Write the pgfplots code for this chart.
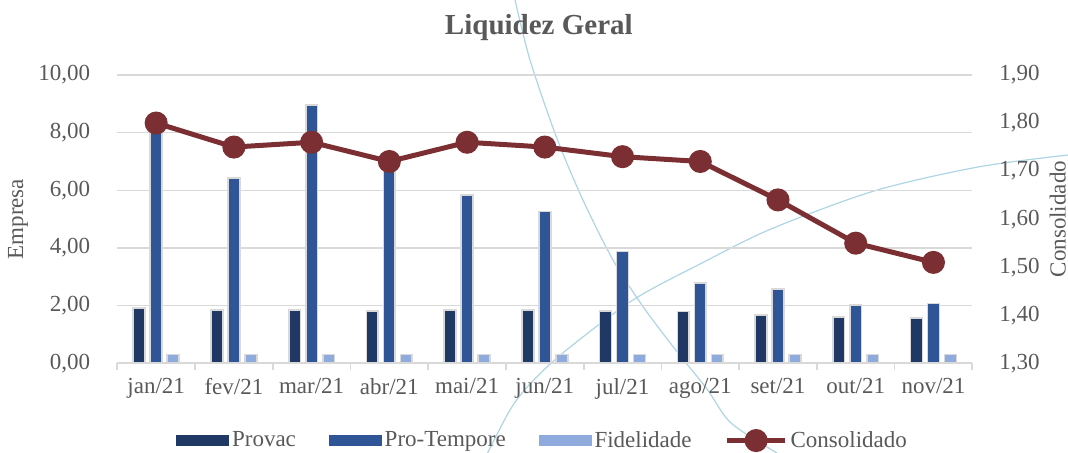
\documentclass[border=0pt]{standalone}
\usepackage{pgfplots}
\pgfplotsset{compat=1.18}
\usepackage{fontspec}
\setmainfont{Liberation Serif}
\definecolor{provac}{RGB}{31,56,100}
\definecolor{protempore}{RGB}{47,85,151}
\definecolor{fidelidade}{RGB}{143,170,220}
\definecolor{consol}{RGB}{124,47,50}
\definecolor{gridgray}{RGB}{217,217,217}
\definecolor{txtgray}{RGB}{89,89,89}
\definecolor{deco}{RGB}{173,213,228}
\pgfplotsset{consolleg/.style={legend image code/.code={\draw[mark repeat=2, mark phase=2, ##1] plot coordinates {(0pt,0pt) (14.5pt,0pt) (29pt,0pt)};}}}
\begin{document}
\begin{tikzpicture}
\useasboundingbox (0,0) rectangle (534pt,226.5pt);
% decorative background curves (theme decoration)
\begin{scope}[shift={(0,226.5pt)}, x=0.5pt, y=-0.5pt]
\draw[deco, line width=0.6pt] plot[smooth] coordinates {(515,0) (530,60) (556,136) (582,198) (613,260) (644,308) (678,353) (707,389) (731,423) (777,453)};
\draw[deco, line width=0.6pt] plot[smooth] coordinates {(484,460) (510,410) (530,384) (564,352) (633,300) (702,263) (771,229) (874,191) (978,167) (1068,155)};
\end{scope}
\pgfplotsset{
  every axis/.append style={
    scale only axis, width=427.5pt, height=144.15pt,
    at={(58.65pt,44.85pt)}, anchor=south west,
    xmin=-0.5, xmax=10.5,
    tick label style={font=\rmfamily\fontsize{11.5}{13}\selectfont, text=txtgray},
    label style={font=\rmfamily\fontsize{11.5}{13}\selectfont, text=txtgray},
    /pgf/number format/.cd, use comma, fixed, fixed zerofill, precision=2, assume math mode=true,
  }
}
\begin{axis}[
  ymin=0, ymax=10, ytick={0,2,4,6,8,10},
  ymajorgrids, grid style={gridgray, line width=0.75pt},
  axis x line*=bottom, axis y line*=left,
  y axis line style={draw=none},
  x axis line style={gridgray, line width=0.9pt, -},
  xtick={0,...,10},
  xticklabels={jan/21,fev/21,mar/21,abr/21,mai/21,jun/21,jul/21,ago/21,set/21,out/21,nov/21},
  minor xtick={-0.5,0.5,...,10.5},
  major tick length=0pt, minor tick length=3.5pt, tick align=outside,
  minor x tick style={gridgray, line width=0.9pt},
  yticklabel style={anchor=east, xshift=-10pt},
  xticklabel style={yshift=-4pt},
  ylabel={Empresa},
  ylabel style={at={(axis description cs:-0.116,0.5)}, anchor=center, rotate=0},
  ybar, bar width=5.9pt,
]
\addplot[draw=gridgray, line width=0.8pt, fill=provac, bar shift=-8.5pt] coordinates {
(0,1.91) (1,1.85) (2,1.85) (3,1.81) (4,1.85) (5,1.85) (6,1.82) (7,1.80) (8,1.68) (9,1.60) (10,1.57)};
\addplot[draw=gridgray, line width=0.8pt, fill=protempore, bar shift=0pt] coordinates {
(0,8.00) (1,6.42) (2,8.95) (3,6.70) (4,5.84) (5,5.27) (6,3.88) (7,2.79) (8,2.58) (9,2.02) (10,2.08)};
\addplot[draw=gridgray, line width=0.8pt, fill=fidelidade, bar shift=8.5pt] coordinates {
(0,0.30) (1,0.30) (2,0.30) (3,0.30) (4,0.30) (5,0.30) (6,0.30) (7,0.30) (8,0.30) (9,0.30) (10,0.30)};
\end{axis}
\begin{axis}[
  ymin=1.3, ymax=1.9, ytick={1.3,1.4,1.5,1.6,1.7,1.8,1.9},
  axis y line*=right, axis x line=none,
  y axis line style={draw=none},
  major tick length=0pt,
  yticklabel style={anchor=west, xshift=10pt},
  ylabel={Consolidado},
  ylabel style={at={(axis description cs:1.100,0.5)}, anchor=center, rotate=0},
  title={Liquidez Geral},
  every axis title shift=0pt,
  title style={at={(axis description cs:0.493,1.166)}, anchor=center, font=\rmfamily\fontsize{14.5}{16}\selectfont\bfseries, text=txtgray},
  legend columns=4,
  legend style={draw=none, fill=none, at={(0.498,-0.268)}, anchor=center,
    font=\rmfamily\fontsize{11.5}{13}\selectfont, text=txtgray,
    /tikz/every even column/.append style={column sep=15pt},
    nodes={inner xsep=1.5pt, font=\rmfamily\fontsize{11.5}{13}\selectfont}},
]
\addlegendimage{legend image code/.code={\fill[provac] (0pt,-2.6pt) rectangle (26pt,2.6pt);}}
\addlegendentry{Provac}
\addlegendimage{legend image code/.code={\fill[protempore] (0pt,-2.6pt) rectangle (26pt,2.6pt);}}
\addlegendentry{Pro-Tempore}
\addlegendimage{legend image code/.code={\fill[fidelidade] (0pt,-2.6pt) rectangle (26pt,2.6pt);}}
\addlegendentry{Fidelidade}
\addplot[consol, line width=2.5pt, mark=*, mark size=4.5pt, mark options={solid, fill=consol}, consolleg] coordinates {
(0,1.80) (1,1.75) (2,1.76) (3,1.72) (4,1.76) (5,1.75) (6,1.73) (7,1.72) (8,1.64) (9,1.55) (10,1.51)};
\addlegendentry{Consolidado}
\end{axis}
\end{tikzpicture}
\end{document}
